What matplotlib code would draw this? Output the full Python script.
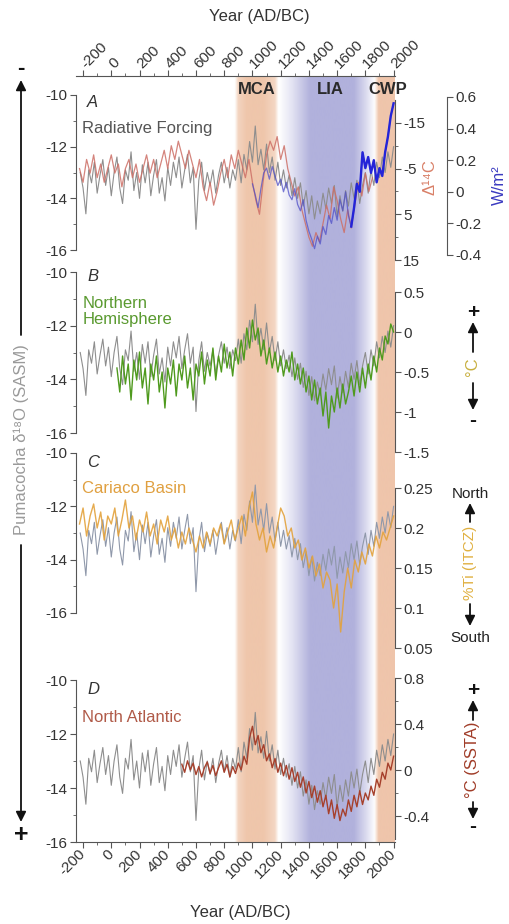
import numpy as np
import matplotlib.pyplot as plt
import matplotlib.colors as mcolors
from matplotlib.ticker import MultipleLocator

plt.rcParams['font.family'] = ['Liberation Sans', 'DejaVu Sans']
plt.rcParams['axes.unicode_minus'] = False
plt.rcParams['font.size'] = 11

# ---- data ----
# Pumacocha d18O (permil), every 20 yr from -220 to 2000
years_d18o = np.arange(-220, 2001, 20)
d18o = [-13.0, -13.6, -14.6, -12.9, -13.4, -12.6, -13.8, -13.1, -12.5, -13.5,
        -12.8, -13.9, -13.0, -12.4, -13.6, -14.2, -12.9, -13.3, -12.2, -13.7,
        -13.0, -14.0, -12.7, -13.4, -12.6, -13.9, -13.1, -12.5, -13.8, -13.2,
        -14.1, -12.8, -13.5, -12.6, -13.2, -12.4, -13.6, -12.9, -12.3, -13.4,
        -12.8, -15.2, -13.3, -12.6, -13.7, -13.0, -13.5, -12.9, -13.8, -13.1,
        -12.6, -13.4, -12.8, -13.6, -12.9, -13.3, -12.5, -13.4, -12.3, -12.9,
        -11.8, -12.6, -11.2, -12.7, -12.1, -12.9, -11.9, -13.0, -12.4, -13.3,
        -12.6, -13.5, -12.9, -13.6, -13.1, -13.9, -13.2, -14.0, -13.4, -14.3,
        -13.7, -14.6, -13.9, -14.8, -14.1, -14.6, -13.8, -14.4, -13.6, -14.2,
        -13.5, -14.7, -13.9, -14.5, -13.7, -14.3, -13.4, -14.0, -13.3, -14.2,
        -13.5, -13.0, -13.8, -12.9, -13.5, -12.6, -13.2, -12.4, -13.0, -12.2,
        -12.8, -12.0]

# Delta 14C (permil), every 25 yr from -225 to 1850
years_c14 = np.arange(-225, 1851, 25)
c14 = [-5, -2, -7, -4, -8, -3, -6, -2, -5, -8,
       -4, -6, -1, -5, -7, -3, -6, -2, -5, -8,
       -4, -7, -3, -6, -9, -5, -10, -7, -11, -8,
       -5, -9, -6, -3, -7, -1, 2, -2, 3, 0,
       -4, -7, -3, -8, -5, -9, -6, -3, -7, -2,
       2, 5, -2, -8, -11, -9, -12, -7, -10, -5,
       -2, 1, -1, 4, 7, 10, 12, 9, 11, 7,
       3, 6, -1, 2, 6, 9, 4, 8, 3, -2,
       1, -4, 0, -3]

# radiative forcing (W/m2), every 20 yr from 1000 to 2000
years_forcing = np.arange(1000, 2001, 20)
forcing = [0.05, -0.02, -0.10, 0.02, 0.12, 0.15, 0.08, 0.16, 0.10, 0.04,
           0.08, 0.00, 0.06, -0.02, -0.05, 0.02, -0.08, -0.12, -0.05, -0.18,
           -0.25, -0.30, -0.36, -0.28, -0.33, -0.22, -0.27, -0.15, -0.20, -0.10,
           -0.18, -0.05, -0.12, 0.00, -0.15, -0.22, -0.10, 0.05, 0.00, 0.25,
           0.15, 0.22, 0.12, 0.20, 0.06, 0.15, 0.10, 0.25, 0.35, 0.48,
           0.56]

# Northern Hemisphere temperature (C), every 20 yr from 40 to 2000
years_nh = np.arange(40, 2001, 20)
nh_temp = [-0.45, -0.75, -0.30, -0.65, -0.40, -0.85, -0.35, -0.60, -0.25, -0.70,
           -0.45, -0.90, -0.40, -0.60, -0.30, -0.75, -0.50, -0.95, -0.45, -0.65,
           -0.35, -0.80, -0.40, -0.60, -0.30, -0.70, -0.45, -0.85, -0.40, -0.55,
           -0.25, -0.65, -0.35, -0.55, -0.20, -0.60, -0.30, -0.50, -0.15, -0.45,
           -0.25, -0.55, -0.20, -0.40, -0.10, -0.35, 0.05, -0.20, 0.15, -0.10,
           0.05, -0.30, -0.10, -0.40, -0.20, -0.45, -0.25, -0.50, -0.30, -0.55,
           -0.35, -0.50, -0.25, -0.60, -0.40, -0.65, -0.45, -0.75, -0.55, -0.85,
           -0.60, -0.90, -0.70, -1.05, -0.75, -1.20, -0.80, -1.00, -0.70, -0.95,
           -0.65, -0.90, -0.75, -0.55, -0.80, -0.50, -0.75, -0.45, -0.70, -0.40,
           -0.60, -0.30, -0.50, -0.20, -0.35, -0.05, -0.15, 0.10, 0.00]

# Cariaco Basin %Ti, every 25 yr from -225 to 2000
years_ti = np.arange(-225, 2001, 25)
cariaco_ti = [0.205, 0.225, 0.19, 0.215, 0.23, 0.20, 0.22, 0.185, 0.215, 0.205,
              0.225, 0.19, 0.21, 0.235, 0.20, 0.215, 0.185, 0.21, 0.195, 0.22,
              0.19, 0.205, 0.18, 0.21, 0.195, 0.215, 0.185, 0.20, 0.175, 0.195,
              0.18, 0.20, 0.185, 0.17, 0.19, 0.175, 0.195, 0.18, 0.20, 0.19,
              0.205, 0.18, 0.195, 0.21, 0.185, 0.20, 0.215, 0.19, 0.225, 0.245,
              0.205, 0.185, 0.20, 0.17, 0.19, 0.175, 0.20, 0.225, 0.215, 0.19,
              0.20, 0.175, 0.185, 0.16, 0.175, 0.15, 0.165, 0.14, 0.155, 0.125,
              0.145, 0.135, 0.10, 0.13, 0.07, 0.12, 0.15, 0.125, 0.16, 0.145,
              0.17, 0.155, 0.18, 0.165, 0.19, 0.175, 0.195, 0.185, 0.20, 0.215]

# North Atlantic SST anomaly (C), every 20 yr from 500 to 2000
years_sst = np.arange(500, 2001, 20)
atl_sst = [0.05, -0.02, 0.08, 0.00, 0.06, -0.04, 0.03, -0.06, 0.02, 0.07,
           -0.03, 0.04, -0.05, 0.02, 0.08, -0.02, 0.05, -0.06, 0.03, -0.03,
           0.06, 0.00, 0.12, 0.05, 0.28, 0.38, 0.22, 0.30, 0.15, 0.22,
           0.08, 0.14, 0.02, 0.10, -0.02, 0.06, -0.05, 0.04, -0.08, 0.02,
           -0.10, -0.02, -0.15, -0.06, -0.20, -0.10, -0.24, -0.14, -0.28, -0.18,
           -0.32, -0.22, -0.38, -0.26, -0.42, -0.30, -0.44, -0.34, -0.40, -0.26,
           -0.36, -0.22, -0.32, -0.18, -0.30, -0.20, -0.26, -0.14, -0.22, -0.08,
           -0.15, -0.02, -0.08, 0.06, 0.00, 0.12]

# climate periods: name, label year, shading knots
era_names = ['MCA', 'LIA', 'CWP']
era_label_x = [1034, 1552, 1956]
era_knots = [[875, 900, 960, 1080, 1160, 1185],
             [1190, 1280, 1410, 1720, 1800, 1870],
             [1865, 1895, 2010]]
era_weights = [[0, 0.75, 1, 1, 0.7, 0],
               [0, 0.35, 1, 1, 0.5, 0],
               [0, 1, 1]]
era_colors = ['#efc6ab', '#b1b1dc', '#efc5ab']

W, H = 510, 924
XMIN, XMAX = -250, 2010
AX_COL = '#555555'
TXT_COL = '#333333'
GRAY = '#8e8e8e'


def fx(px):
    return px / W


def fy(py):
    return 1 - py / H


def box(top, bottom, left=76, right=395):
    return [fx(left), fy(bottom), fx(right) - fx(left), fy(top) - fy(bottom)]


fig = plt.figure(figsize=(W / 100, H / 100), dpi=100)

# background axis: period shading + year axes top and bottom
bg = fig.add_axes(box(76, 842))
xs = np.linspace(XMIN, XMAX, 1500)
rgb = np.ones((len(xs), 3))
for knots, wts, col in zip(era_knots, era_weights, era_colors):
    w = np.interp(xs, knots, wts, left=0, right=0)[:, None]
    rgb = rgb * (1 - w) + np.array(mcolors.to_rgb(col)) * w
bg.imshow(rgb[None], extent=[XMIN, XMAX, 0, 1], aspect='auto', interpolation='bilinear')
bg.set_xlim(XMIN, XMAX)
bg.set_ylim(0, 1)
bg.set_yticks([])
for s in ['left', 'right']:
    bg.spines[s].set_visible(False)
for s in ['top', 'bottom']:
    bg.spines[s].set_color(AX_COL)
bg.set_xticks(np.arange(-200, 2001, 200))
bg.xaxis.set_minor_locator(MultipleLocator(100))
bg.tick_params(axis='x', which='both', top=True, bottom=True, labeltop=True,
               labelbottom=True, direction='out', color=AX_COL, labelcolor=TXT_COL,
               labelsize=11, pad=3)
bg.tick_params(axis='x', which='major', length=4)
bg.tick_params(axis='x', which='minor', length=2.5)
for t in bg.xaxis.get_major_ticks():
    t.label1.set(rotation=45, ha='right', va='center', rotation_mode='anchor')
    t.label2.set(rotation=45, ha='left', va='center', rotation_mode='anchor')
for name, x in zip(era_names, era_label_x):
    bg.text(x, (842 - 90) / 766, name, ha='center', va='center', fontsize=12,
            fontweight='bold', color='#2a2a2a')

fig.text(fx(259), fy(16), 'Year (AD/BC)', ha='center', va='center', fontsize=12, color=TXT_COL)
fig.text(fx(240), fy(912), 'Year (AD/BC)', ha='center', va='center', fontsize=12, color=TXT_COL)


def panel(top, bottom):
    ax = fig.add_axes(box(top, bottom))
    ax.patch.set_alpha(0)
    ax.set_xlim(XMIN, XMAX)
    ax.set_ylim(-16, -10)
    for s in ['top', 'right', 'bottom']:
        ax.spines[s].set_visible(False)
    ax.spines['left'].set_color(AX_COL)
    ax.set_xticks([])
    ax.set_yticks([-16, -14, -12, -10])
    ax.yaxis.set_minor_locator(MultipleLocator(1))
    ax.tick_params(axis='y', which='both', direction='out', color=AX_COL,
                   labelcolor=TXT_COL, labelsize=11, pad=2)
    ax.tick_params(axis='y', which='major', length=4)
    ax.tick_params(axis='y', which='minor', length=2.5)
    return ax


def right_axis(top, bottom, ylim, ticks, labels, minor=None, offset=None):
    ax = fig.add_axes(box(top, bottom))
    ax.patch.set_alpha(0)
    ax.set_xlim(XMIN, XMAX)
    ax.set_ylim(*ylim)
    for s in ['top', 'left', 'bottom']:
        ax.spines[s].set_visible(False)
    ax.spines['right'].set_color(AX_COL)
    if offset is not None:
        ax.spines['right'].set_position(('axes', offset))
    ax.set_xticks([])
    ax.yaxis.tick_right()
    ax.set_yticks(ticks, labels)
    if minor is not None:
        ax.set_yticks(minor, minor=True)
    ax.tick_params(axis='y', which='both', direction='out', color=AX_COL,
                   labelcolor=TXT_COL, labelsize=11, pad=2)
    ax.tick_params(axis='y', which='major', length=4)
    ax.tick_params(axis='y', which='minor', length=2.5)
    return ax


def arrow(x, y_from, y_to):
    bg.annotate('', xy=(fx(x), fy(y_to)), xycoords='figure fraction',
                xytext=(fx(x), fy(y_from)), textcoords='figure fraction',
                arrowprops=dict(arrowstyle='-|>', color='#111111', lw=1.3,
                                mutation_scale=15, shrinkA=0, shrinkB=0),
                annotation_clip=False)


def ftext(x, y, s, **kw):
    fig.text(fx(x), fy(y), s, ha='center', va='center', **kw)


# ---- panel A ----
axA = panel(95, 250)
axA.plot(years_d18o, d18o, color=GRAY, lw=0.8)
axA.text(0.035, 0.95, 'A', transform=axA.transAxes, fontsize=12, style='italic',
         ha='left', va='center', color='#333333')
axA.text(0.02, 0.787, 'Radiative Forcing', transform=axA.transAxes, fontsize=12,
         ha='left', va='center', color='#555555')
axA_c = right_axis(100, 260, (15, -20), [-15, -5, 5, 15], ['-15', '-5', '5', '15'],
                   minor=[-10, 0, 10])
axA_c.plot(years_c14, c14, color='#cd6f66', lw=0.9, alpha=0.85)
axA_w = right_axis(97, 255, (-0.4, 0.6), [-0.4, -0.2, 0, 0.2, 0.4, 0.6],
                   ['-0.4', '-0.2', '0', '0.2', '0.4', '0.6'], offset=(447 - 76) / 319)
axA_w.plot(years_forcing, forcing, color='#5050c8', lw=0.9, alpha=0.75)
late = years_forcing >= 1700
axA_w.plot(years_forcing[late], np.array(forcing)[late], color='#2424d8', lw=1.7)
ftext(430, 177, 'Δ¹⁴C', rotation=90, fontsize=12, color='#d98068')
ftext(499, 185, 'W/m²', rotation=90, fontsize=12, color='#3a3ac0')

# ---- panel B ----
axB = panel(272, 433)
axB.plot(years_d18o, d18o, color=GRAY, lw=0.8)
axB.text(0.035, 0.97, 'B', transform=axB.transAxes, fontsize=12, style='italic',
         ha='left', va='center', color='#333333')
axB.text(0.02, 0.755, 'Northern\nHemisphere', transform=axB.transAxes, fontsize=12,
         ha='left', va='center', color='#5a9a30', linespacing=1.1)
axB_t = right_axis(292, 452, (-1.5, 0.5), [0.5, 0, -0.5, -1, -1.5],
                   ['0.5', '0', '-0.5', '-1', '-1.5'])
axB_t.plot(years_nh, nh_temp, color='#4f9a1e', lw=1.0)
ftext(473, 312, '+', fontsize=15, fontweight='bold', color='#111111')
arrow(473, 352, 322)
ftext(473, 367, '°C', rotation=90, fontsize=12, color='#c8b040')
arrow(473, 383, 410)
ftext(473, 421, '-', fontsize=15, fontweight='bold', color='#111111')

# ---- panel C ----
axC = panel(453, 613)
axC.plot(years_d18o, d18o, color='#8f98aa', lw=0.8)
axC.text(0.035, 0.94, 'C', transform=axC.transAxes, fontsize=12, style='italic',
         ha='left', va='center', color='#333333')
axC.text(0.02, 0.78, 'Cariaco Basin', transform=axC.transAxes, fontsize=12,
         ha='left', va='center', color='#e0a040')
axC_t = right_axis(488, 648, (0.05, 0.25), [0.05, 0.1, 0.15, 0.2, 0.25],
                   ['0.05', '0.1', '0.15', '0.2', '0.25'])
axC_t.plot(years_ti, cariaco_ti, color='#e3a23c', lw=1.0, alpha=0.9)
ftext(470, 494, 'North', fontsize=11, color='#222222')
arrow(470, 522, 503)
ftext(470, 563, '%Ti (ITCZ)', rotation=90, fontsize=11, color='#e0b040')
arrow(470, 604, 626)
ftext(470, 638, 'South', fontsize=11, color='#222222')

# ---- panel D ----
axD = panel(680, 842)
axD.plot(years_d18o, d18o, color=GRAY, lw=0.8)
axD.text(0.035, 0.94, 'D', transform=axD.transAxes, fontsize=12, style='italic',
         ha='left', va='center', color='#333333')
axD.text(0.02, 0.77, 'North Atlantic', transform=axD.transAxes, fontsize=12,
         ha='left', va='center', color='#b05a48')
axD_t = right_axis(678, 839, (-0.6, 0.8), [-0.4, 0, 0.4, 0.8],
                   ['-0.4', '0', '0.4', '0.8'], minor=[-0.2, 0.2, 0.6])
axD_t.plot(years_sst, atl_sst, color='#a6402c', lw=1.0)
ftext(473, 690, '+', fontsize=15, fontweight='bold', color='#111111')
arrow(473, 720, 700)
ftext(473, 760, '°C (SSTA)', rotation=90, fontsize=12, color='#a03c28')
arrow(473, 802, 819)
ftext(473, 826, '-', fontsize=15, fontweight='bold', color='#111111')

# ---- left: Pumacocha axis label with direction arrows ----
ftext(21, 68, '-', fontsize=16, fontweight='bold', color='#111111')
arrow(21, 335, 80)
ftext(21, 440, 'Pumacocha δ¹⁸O (SASM)', rotation=90, fontsize=12, color='#9a9a9a')
arrow(21, 545, 822)
ftext(21, 835, '+', fontsize=18, fontweight='bold', color='#111111')

fig.savefig('out.png', dpi=100)
